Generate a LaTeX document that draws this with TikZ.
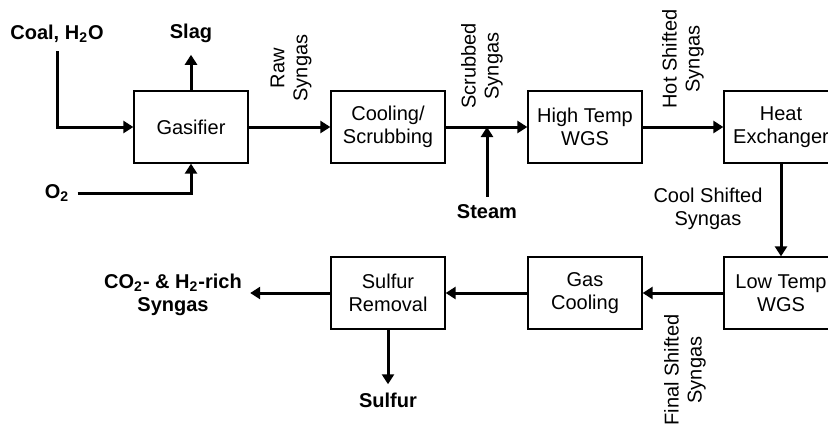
\documentclass[tikz,border=0pt]{standalone}
\usepackage{fontspec}
\setmainfont{Liberation Sans}
\usetikzlibrary{arrows.meta}

\begin{document}
\begin{tikzpicture}[
    x=0.5pt, y=-0.5pt,   % coordinate in pixel, asse y verso il basso
    font=\fontsize{10}{11.5}\selectfont,
    blocco/.style={draw=black, line width=0.65pt, minimum width=57pt, minimum height=36pt, align=center, inner sep=0pt},
    freccia/.style={-{Triangle[length=5pt,width=6pt]}, line width=1.5pt},
    ingresso/.style={font=\fontsize{10}{11.5}\selectfont\bfseries, align=center, inner sep=4pt},
    corrente/.style={align=center, inner sep=1pt},
    verticale/.style={corrente, rotate=90}
]

    % Riquadro della figura
    \useasboundingbox (0,0) rectangle (828,424);
    \clip (0,0) rectangle (828,424);

    % =========================================================================
    % 1. RIGA SUPERIORE: GASSIFICAZIONE E SHIFT AD ALTA TEMPERATURA
    % =========================================================================
    \node[blocco] (gas)   at (191,127) {Gasifier};
    \node[blocco] (scrub) at (388,127) {Cooling/\\Scrubbing};
    \node[blocco] (htwgs) at (585,127) {High Temp\\WGS};
    \node[blocco] (hx)    at (781,127) {Heat\\Exchanger};

    % Ingressi e uscite
    \node[ingresso] (coal)  at (57,34)   {Coal, H\textsubscript{2}O};
    \node[ingresso] (slag)  at (191,33)  {Slag};
    \node[ingresso] (oss)   at (57,193)  {O\textsubscript{2}};
    \node[ingresso] (steam) at (487,212) {Steam};

    % Etichette delle correnti
    \node[verticale] (raw)      at (291,68) {Raw\\Syngas};
    \node[verticale] (scrubbed) at (482,66) {Scrubbed\\Syngas};
    \node[verticale] (hot)      at (683,59) {Hot Shifted\\Syngas};

    \draw[freccia] (coal.south) |- (gas.west);
    \draw[freccia, shorten >=2pt] (gas.north) -- (slag.south);
    \draw[freccia] (oss.east) -| (gas.south);
    \draw[freccia] (gas.east) -- (scrub.west);
    \draw[freccia] (scrub.east) -- (htwgs.west);
    \coordinate (mix) at (steam.north |- scrub.east);
    \draw[freccia] (steam.north) -- (mix);
    \draw[freccia] (htwgs.east) -- (hx.west);

    % =========================================================================
    % 2. RIGA INFERIORE: SHIFT A BASSA TEMPERATURA E DESOLFORAZIONE
    % =========================================================================
    \node[blocco] (ltwgs) at (781,293) {Low Temp\\WGS};
    \node[blocco] (gc)    at (585,293) {Gas\\Cooling};
    \node[blocco] (sr)    at (388,293) {Sulfur\\Removal};

    \node[ingresso] (prod)   at (173,295) {CO\textsubscript{2}- \& H\textsubscript{2}-rich\\Syngas};
    \node[ingresso] (sulfur) at (388,400) {Sulfur};

    \node[corrente]  (cool)  at (708,209) {Cool Shifted\\Syngas};
    \node[verticale] (final) at (685,370) {Final Shifted\\Syngas};

    \draw[freccia] (hx.south) -- (ltwgs.north);
    \draw[freccia] (ltwgs.west) -- (gc.east);
    \draw[freccia] (gc.west) -- (sr.east);
    \draw[freccia] (sr.west) -- (sr.west -| prod.east);
    \draw[freccia] (sr.south) -- (sulfur.north);

\end{tikzpicture}
\end{document}
